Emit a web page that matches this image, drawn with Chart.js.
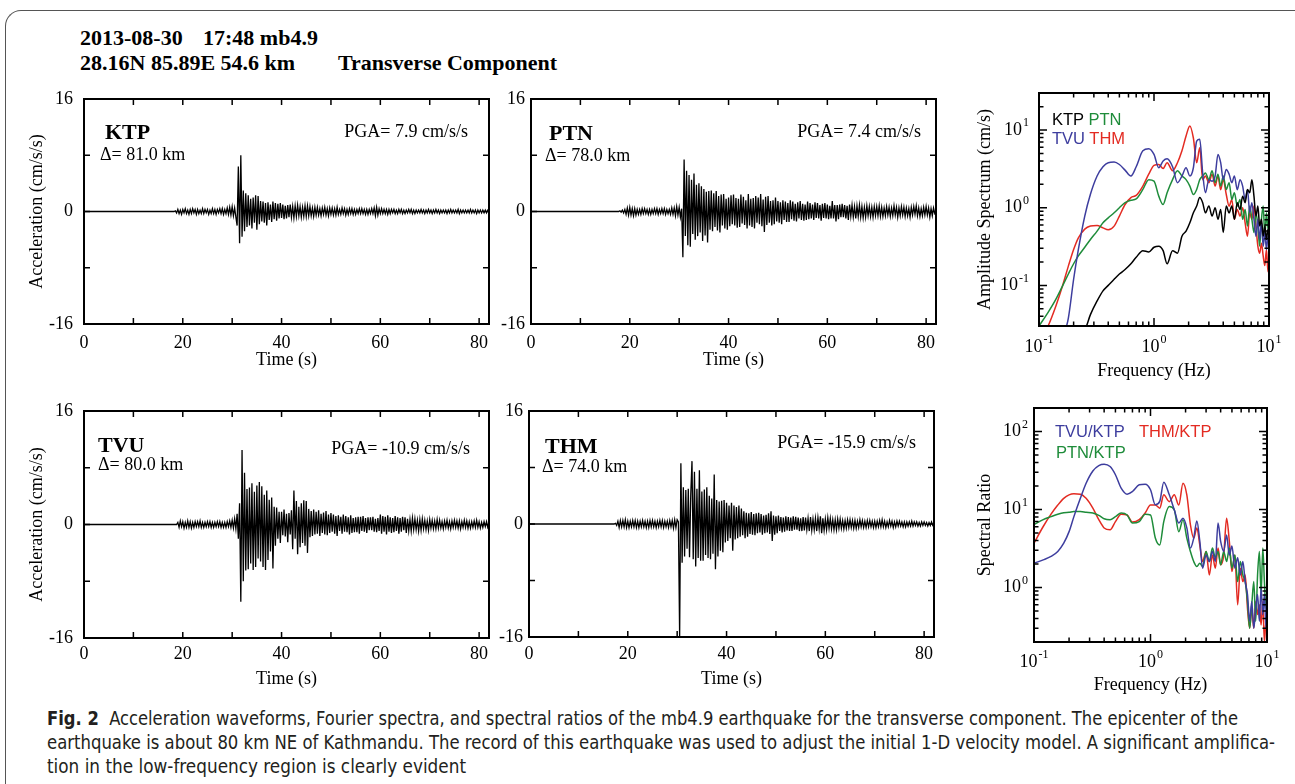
<!DOCTYPE html>
<html>
<head>
<meta charset="utf-8">
<title>Fig. 2 - transverse component</title>
<script src="https://cdn.jsdelivr.net/npm/chart.js@4.4.0/dist/chart.umd.min.js"></script>
<style>
  body { margin: 0; background: #fff; }
  #fig { position: relative; width: 1295px; height: 784px; overflow: hidden;
         font-family: "Liberation Serif", "Times New Roman", serif; color: #000; }
  #fig canvas { position: absolute; }
  .frame { position: absolute; left: 5px; top: 10px; width: 1330px; height: 820px;
           border-top: 1.5px solid #555; border-left: 1.5px solid #555; border-top-left-radius: 16px; }
  .t { position: absolute; white-space: nowrap; line-height: 1; font-size: 18px; transform: translateY(-50%); }
  .r { transform: translate(-100%, -50%); }
  .stn { font-weight: bold; font-size: 22px; }
  .hd { font-weight: bold; font-size: 22px; }
  .lg { font-family: "Liberation Sans", Arial, sans-serif; font-size: 16.5px; }
  .cap { position: absolute; left: 47px; white-space: nowrap; color: #231f20;
         font-family: "Liberation Sans Narrow", "DejaVu Sans Condensed", "Open Sans", sans-serif;
         font-stretch: condensed; font-size: 20px; line-height: 24px; transform-origin: 0 50%; }
</style>
</head>
<body>
<div id="fig">
  <div class="frame"></div>

  <canvas id="wKTP" width="480" height="290" style="left:20px;top:90px"></canvas>
  <canvas id="wPTN" width="480" height="290" style="left:467px;top:90px"></canvas>
  <canvas id="wTVU" width="480" height="292" style="left:20px;top:402px"></canvas>
  <canvas id="wTHM" width="480" height="292" style="left:465px;top:402px"></canvas>
  <canvas id="spec" width="335" height="310" style="left:960px;top:80px"></canvas>
  <canvas id="ratio" width="335" height="310" style="left:960px;top:395px"></canvas>

  <div class="t hd" style="left:80px;top:38px">2013-08-30</div>
  <div class="t hd" style="left:203px;top:38px">17:48 mb4.9</div>
  <div class="t hd" style="left:80px;top:63px">28.16N 85.89E 54.6 km</div>
  <div class="t hd" style="left:338px;top:63px">Transverse Component</div>

  <div class="t stn" style="left:105px;top:132px">KTP</div>
  <div class="t" style="left:100px;top:154px">&Delta;= 81.0 km</div>
  <div class="t r" style="left:468px;top:131px">PGA= 7.9 cm/s/s</div>

  <div class="t stn" style="left:549px;top:133px">PTN</div>
  <div class="t" style="left:545px;top:155px">&Delta;= 78.0 km</div>
  <div class="t r" style="left:921px;top:131px">PGA= 7.4 cm/s/s</div>

  <div class="t stn" style="left:98px;top:445px">TVU</div>
  <div class="t" style="left:98px;top:464px">&Delta;= 80.0 km</div>
  <div class="t r" style="left:470px;top:448px">PGA= -10.9 cm/s/s</div>

  <div class="t stn" style="left:545px;top:446px">THM</div>
  <div class="t" style="left:542px;top:466px">&Delta;= 74.0 km</div>
  <div class="t r" style="left:916px;top:442px">PGA= -15.9 cm/s/s</div>

  <div class="t lg" style="left:1052px;top:119px">KTP <span style="color:#1e8c3a">PTN</span></div>
  <div class="t lg" style="left:1052px;top:138px"><span style="color:#3d3d9e">TVU</span> <span style="color:#e32b22">THM</span></div>
  <div class="t lg" style="left:1055px;top:431px;color:#3d3d9e">TVU/KTP</div>
  <div class="t lg" style="left:1139px;top:431px;color:#e32b22">THM/KTP</div>
  <div class="t lg" style="left:1056px;top:452px;color:#1e8c3a">PTN/KTP</div>

  <div class="cap" data-w="1191" style="top:706px"><b>Fig. 2</b>&nbsp; Acceleration waveforms, Fourier spectra, and spectral ratios of the mb4.9 earthquake for the transverse component. The epicenter of the</div>
  <div class="cap" data-w="1228" style="top:730px">earthquake is about 80 km NE of Kathmandu. The record of this earthquake was used to adjust the initial 1-D velocity model. A significant amplifica-</div>
  <div class="cap" data-w="419" style="top:754px">tion in the low-frequency region is clearly evident</div>
</div>

<script>
// Acceleration records (cm/s/s), 4 samples per second from timeStart on; zero before that
const timeStart = 17;
const timeStep = 0.25;

const accKTP = [
  0, 0, 0, 0,  0, 0, 0.1, -0.2,  0.3, -0.3, 0.2, -0.4,  0.3, -0.2, 0.4, -0.3,  0.2, -0.4, 0.3, -0.3,
  0.4, -0.2, 0.3, -0.4,  0.3, -0.3, 0.2, -0.3,  0.4, -0.3, 0.3, -0.2,  0.3, -0.4, 0.2, -0.3,  0.4, -0.3, 0.3, -0.4,
  0.3, -0.2, 0.4, -0.3,  0.4, -0.4, 0.3, -0.3,  0.5, -0.4, 0.6, -0.5,  0.7, -0.6, 0.5, -0.8,  -2.0, 6.4, -4.5, 8.0,
  -3.6, 3.0, -2.8, 2.6,  -2.2, 2.3, -2.0, 1.8,  -2.4, 2.0, -1.6, 2.3,  -2.6, 2.2, -1.8, 1.5,  -1.4, 1.4, -1.6, 1.2,
  -2.0, 1.3, -1.2, 1.0,  -1.5, 1.4, -1.1, 1.2,  -1.3, 1.1, -1.0, 1.2,  -0.9, 1.0, -1.1, 0.8,  -1.0, 0.9, -0.8, 1.0,
  -0.8, 0.7, -0.9, 0.8,  -0.7, 0.9, -0.6, 0.7,  -0.8, 0.6, -0.7, 0.8,  -0.7, 0.8, -0.6, 0.7,  -0.6, 0.5, -0.7, 0.6,
  -0.5, 0.6, -0.5, 0.4,  -0.6, 0.5, -0.4, 0.6,  -0.5, 0.4, -0.6, 0.5,  -0.4, 0.5, -0.5, 0.4,  -0.5, 0.6, -0.4, 0.3,
  -0.4, 0.5, -0.3, 0.4,  -0.5, 0.3, -0.4, 0.4,  -0.3, 0.4, -0.4, 0.3,  -0.4, 0.3, -0.3, 0.4,  -0.3, 0.4, -0.3, 0.3,
  -0.4, 0.3, -0.4, 0.3,  -0.3, 0.4, -0.3, 0.5,  -0.6, 0.6, -0.5, 0.4,  -0.3, 0.4, -0.3, 0.3,  -0.3, 0.3, -0.4, 0.3,
  -0.3, 0.3, -0.2, 0.3,  -0.3, 0.2, -0.3, 0.3,  -0.2, 0.3, -0.3, 0.2,  -0.3, 0.2, -0.2, 0.3,  -0.2, 0.3, -0.3, 0.2,
  -0.3, 0.2, -0.2, 0.2,  -0.2, 0.3, -0.2, 0.2,  -0.3, 0.2, -0.2, 0.3,  -0.2, 0.2, -0.3, 0.2,  -0.2, 0.3, -0.2, 0.2,
  -0.3, 0.2, -0.2, 0.2,  -0.2, 0.2, -0.3, 0.2,  -0.2, 0.3, -0.2, 0.2,  -0.2, 0.2, -0.2, 0.3,  -0.3, 0.2, -0.2, 0.2,
  -0.2, 0.2, -0.2, 0.2,  -0.2, 0.3, -0.2, 0.2,  -0.2, 0.2, -0.3, 0.2,  -0.2, 0.2, -0.2, 0.2,  -0.2, 0.2, -0.2, 0.2,
  0
];

const accPTN = [
  0, 0, 0, 0,  0.1, -0.1, 0.2, -0.2,  0.3, -0.4, 0.5, -0.5,  0.6, -0.5, 0.4, -0.6,  0.4, -0.5, 0.3, -0.4,
  0.3, -0.4, 0.4, -0.3,  0.4, -0.3, 0.3, -0.4,  0.3, -0.4, 0.3, -0.3,  0.4, -0.3, 0.4, -0.4,  0.3, -0.3, 0.4, -0.3,
  0.4, -0.4, 0.3, -0.3,  0.3, -0.4, 0.5, -0.4,  0.5, -0.6, 0.7, -0.5,  0.6, -0.8, 0.4, -6.5,  7.4, -3.5, 5.8, -4.8,
  5.2, -5.0, 4.5, -3.2,  5.4, -4.0, 3.8, -3.5,  4.0, -3.0, 3.6, -4.2,  3.2, -3.4, 2.8, -4.4,  2.9, -2.6, 3.0, -2.8,
  2.6, -2.2, 2.9, -2.7,  2.2, -3.0, 2.4, -2.0,  2.5, -2.4, 1.8, -2.6,  2.0, -2.1, 2.3, -1.8,  2.4, -2.0, 1.9, -2.3,
  1.8, -2.2, 2.4, -1.7,  2.1, -1.9, 1.6, -2.4,  2.5, -2.0, 1.8, -2.2,  1.9, -2.4, 2.2, -1.6,  2.0, -1.8, 2.5, -2.1,
  1.7, -2.9, 2.1, -1.9,  2.2, -1.6, 1.5, -2.0,  1.6, -1.8, 2.0, -1.4,  1.5, -1.6, 1.3, -1.8,  1.6, -1.2, 1.4, -1.5,
  1.2, -1.5, 1.6, -1.1,  1.4, -1.3, 1.1, -1.4,  1.3, -1.0, 1.5, -1.2,  1.1, -1.3, 1.0, -1.2,  1.4, -1.1, 1.2, -1.0,
  1.0, -1.2, 1.3, -0.9,  1.2, -1.0, 0.9, -1.3,  1.1, -0.9, 1.2, -1.0,  1.0, -1.1, 0.8, -1.0,  1.5, -1.0, 0.9, -1.4,
  0.9, -1.1, 1.0, -0.8,  1.1, -0.8, 0.9, -1.0,  0.8, -1.2, 1.0, -0.7,  0.9, -0.8, 0.7, -1.0,  0.8, -0.7, 0.9, -0.8,
  0.7, -0.9, 0.6, -0.8,  0.8, -0.6, 0.7, -0.7,  0.6, -0.8, 0.7, -0.6,  0.7, -0.6, 0.8, -0.7,  0.6, -0.7, 0.5, -0.6,
  0.7, -0.5, 0.6, -0.7,  0.5, -0.6, 0.8, -0.5,  0.6, -0.8, 0.5, -0.6,  0.7, -0.5, 0.6, -0.7,  0.5, -0.6, 0.4, -0.8,
  0.6, -0.5, 0.7, -0.4,  0.8, -0.6, 0.5, -0.7,  0.4, -0.6, 0.6, -0.5,  0.7, -0.5, 0.5, -0.8,  0.4, -0.6, 0.5, -0.3,
  0
];

const accTVU = [
  0, 0, 0, 0,  0, 0, 0, 0,  0.3, -0.4, 0.5, -0.3,  0.4, -0.5, 0.3, -0.4,  0.5, -0.4, 0.4, -0.5,
  0.3, -0.4, 0.4, -0.3,  0.4, -0.3, 0.5, -0.4,  0.3, -0.4, 0.3, -0.3,  0.4, -0.3, 0.4, -0.4,  0.3, -0.4, 0.3, -0.3,
  0.4, -0.3, 0.4, -0.4,  0.3, -0.4, 0.3, -0.4,  0.4, -0.3, 0.5, -0.4,  0.6, -0.5, 0.8, -0.6,  1.5, -2.0, 3.0, -10.9,
  10.5, -8.0, 7.3, -6.5,  5.0, -6.3, 5.2, -5.5,  5.8, -6.4, 4.6, -6.0,  5.5, -4.8, 6.0, -5.2,  5.4, -6.0, 4.2, -6.4,
  4.8, -5.0, 3.5, -3.8,  3.8, -6.2, 2.5, -3.0,  2.4, -2.0, 1.8, -2.6,  1.8, -1.5, 2.1, -1.7,  1.5, -2.5, 1.6, -1.4,
  2.0, -3.5, 4.8, -2.0,  3.3, -4.2, 2.5, -3.2,  3.0, -2.6, 3.4, -3.0,  3.3, -4.0, 2.2, -1.8,  1.9, -1.6, 2.1, -1.4,
  1.8, -1.3, 2.0, -1.6,  1.5, -1.2, 1.7, -1.4,  1.9, -1.5, 1.4, -1.2,  1.6, -1.0, 1.4, -1.3,  1.2, -1.6, 1.3, -0.9,
  1.1, -1.3, 1.4, -1.0,  1.2, -1.1, 1.0, -1.4,  1.3, -1.2, 0.9, -1.1,  1.0, -1.1, 1.1, -1.3,  1.1, -0.9, 1.2, -1.0,
  0.9, -1.2, 1.0, -0.8,  1.0, -0.8, 1.1, -1.0,  0.8, -1.1, 0.9, -0.9,  1.4, -1.3, 1.2, -1.0,  1.1, -1.4, 1.3, -1.0,
  1.0, -1.2, 0.9, -1.1,  1.2, -0.9, 1.0, -1.3,  0.9, -1.0, 1.1, -0.8,  1.0, -1.2, 0.8, -0.9,  0.7, -0.9, 0.9, -0.7,
  0.8, -0.7, 0.6, -0.9,  0.7, -0.8, 0.8, -0.6,  0.6, -0.7, 0.5, -0.8,  0.7, -0.5, 0.6, -0.6,  0.5, -0.6, 0.7, -0.5,
  0.6, -0.5, 0.4, -0.6,  0.5, -0.4, 0.6, -0.5,  0.4, -0.6, 0.5, -0.4,  0.6, -0.4, 0.5, -0.5,  0.5, -0.6, 0.4, -0.4,
  0.6, -0.4, 0.5, -0.5,  0.4, -0.5, 0.4, -0.4,  0.5, -0.4, 0.6, -0.4,  0.4, -0.5, 0.3, -0.4,  0.4, -0.3, 0.4, -0.4,
  0
];

const accTHM = [
  0, 0, 0.1, -0.2,  0.4, -0.5, 0.5, -0.4,  0.5, -0.4, 0.6, -0.5,  0.4, -0.5, 0.4, -0.4,  0.5, -0.4, 0.5, -0.5,
  0.4, -0.5, 0.4, -0.4,  0.5, -0.4, 0.4, -0.5,  0.4, -0.5, 0.5, -0.4,  0.5, -0.4, 0.4, -0.5,  0.4, -0.4, 0.5, -0.4,
  0.5, -0.5, 0.4, -0.4,  0.4, -0.5, 0.5, -0.4,  0.5, -0.6, 0.6, -0.5,  0.6, 0.3, -15.9, 8.6,  -5.5, 5.2, -4.6, 4.8,
  -3.5, 5.0, -4.7, 4.2,  8.9, -5.0, 7.4, -6.0,  5.0, -4.8, 7.6, -5.2,  4.6, -5.2, 4.9, -4.4,  5.2, -4.8, 4.0, -5.0,
  3.6, -4.2, 7.0, -6.4,  3.4, -4.6, 3.2, -3.8,  3.3, -4.0, 3.4, -2.6,  3.0, -2.4, 2.6, -2.0,  3.0, -3.8, 2.6, -2.2,
  2.4, -2.0, 2.6, -1.8,  2.2, -1.6, 1.8, -2.0,  1.6, -1.8, 1.5, -1.4,  1.7, -1.5, 1.4, -1.6,  1.5, -1.3, 1.6, -1.2,
  1.4, -1.5, 1.2, -1.3,  1.3, -1.2, 1.5, -1.4,  1.8, -2.4, 1.2, -1.5,  1.1, -1.3, 1.2, -1.0,  1.0, -1.2, 0.9, -1.1,
  1.1, -0.9, 1.0, -1.0,  0.9, -1.0, 1.1, -0.8,  1.0, -0.8, 0.9, -1.0,  0.8, -1.0, 1.0, -0.9,  0.9, -0.8, 0.8, -1.0,
  1.0, -0.9, 0.7, -0.8,  0.8, -1.0, 0.9, -0.7,  1.1, -1.3, 0.8, -0.9,  0.7, -0.8, 0.9, -0.6,  0.8, -0.7, 0.6, -0.8,
  0.6, -0.8, 0.7, -0.6,  0.7, -0.6, 0.5, -0.7,  0.5, -0.6, 0.6, -0.5,  0.6, -0.5, 0.5, -0.6,  0.5, -0.6, 0.4, -0.5,
  0.6, -0.4, 0.5, -0.5,  0.4, -0.5, 0.5, -0.4,  0.5, -0.4, 0.4, -0.5,  0.4, -0.5, 0.4, -0.4,  0.5, -0.4, 0.6, -0.4,
  0.4, -0.5, 0.3, -0.4,  0.5, -0.3, 0.4, -0.5,  0.3, -0.4, 0.4, -0.3,  0.4, -0.3, 0.3, -0.4,  0.3, -0.4, 0.3, -0.3,
  0.3, -0.3, 0.4, -0.3,  0.3, -0.2, 0.3, -0.3,  0.2, -0.3, 0.3, -0.2,  0.3, -0.2, 0.2, -0.3,  0.2, -0.2, 0.3, -0.2,
  0
];

// Fourier amplitude spectra (cm/s) and spectral ratios, on a common frequency list (Hz)
const freqHz = [
  0.10, 0.12, 0.14, 0.16, 0.18, 0.20, 0.22, 0.25, 0.28, 0.32,
  0.36, 0.40, 0.45, 0.50, 0.56, 0.63, 0.70, 0.80, 0.90, 1.00,
  1.10, 1.20, 1.30, 1.45, 1.60, 1.75, 1.90, 2.05, 2.20, 2.35,
  2.50, 2.65, 2.80, 3.00, 3.20, 3.40, 3.60, 3.80, 4.00, 4.25,
  4.50, 4.75, 5.00, 5.30, 5.60, 5.90, 6.20, 6.50, 6.80, 7.10,
  7.40, 7.70, 8.00, 8.30, 8.60, 8.90, 9.20, 9.50, 9.80, 10.0
];

const specKTP = [
  0.005, 0.008, 0.011, 0.014, 0.018, 0.022, 0.025, 0.027, 0.042, 0.063,
  0.085, 0.10, 0.12, 0.14, 0.16, 0.19, 0.23, 0.28, 0.27, 0.31,
  0.32, 0.28, 0.19, 0.28, 0.26, 0.43, 0.50, 0.64, 0.86, 1.05,
  1.35, 1.16, 0.86, 1.05, 0.78, 1.0, 0.71, 0.95, 0.48, 1.05,
  0.86, 1.05, 0.71, 1.16, 0.95, 1.41, 1.16, 1.72, 1.56, 2.3,
  1.41, 0.78, 1.05, 0.58, 0.71, 0.43, 0.58, 0.39, 0.53, 0.45
];
const specTVU = [
  0.004, 0.006, 0.010, 0.020, 0.038, 0.12, 0.29, 0.78, 1.49, 2.56,
  3.37, 3.8, 3.87, 3.6, 3.05, 2.56, 3.37, 5.4, 5.75, 4.86,
  3.27, 4.0, 4.27, 3.37, 2.1, 2.56, 3.27, 2.56, 3.27, 7.2,
  7.6, 2.8, 1.56, 2.3, 2.2, 2.56, 4.86, 3.8, 2.3, 3.1,
  2.7, 2.1, 2.56, 1.7, 2.3, 1.9, 1.28, 1.7, 0.86, 1.16,
  0.71, 0.43, 0.71, 0.39, 0.64, 0.32, 0.48, 0.29, 0.43, 0.40
];
const specPTN = [
  0.030, 0.045, 0.066, 0.098, 0.14, 0.19, 0.24, 0.31, 0.39, 0.50,
  0.64, 0.74, 0.86, 1.0, 1.16, 1.25, 1.3, 1.72, 2.3, 2.2,
  1.41, 1.1, 1.56, 2.3, 3.0, 2.56, 2.3, 1.9, 1.48, 1.72,
  2.3, 2.56, 2.8, 2.3, 3.0, 2.1, 2.7, 1.9, 2.56, 1.72,
  2.1, 1.28, 1.56, 1.05, 1.28, 0.71, 0.95, 0.58, 1.05, 0.71,
  0.48, 0.86, 0.58, 0.32, 0.71, 1.05, 0.43, 0.86, 0.53, 0.60
];
const specTHM = [
  0.018, 0.030, 0.054, 0.098, 0.177, 0.29, 0.41, 0.53, 0.58, 0.59,
  0.55, 0.52, 0.58, 0.78, 1.1, 1.35, 1.44, 1.9, 2.7, 3.5,
  3.6, 3.2, 3.8, 3.0, 3.8, 5.4, 8.4, 11.3, 7.9, 3.8,
  5.9, 2.3, 2.56, 2.1, 2.7, 1.9, 2.56, 1.7, 2.3, 1.48,
  1.05, 1.28, 0.71, 0.95, 0.78, 1.0, 0.64, 0.43, 0.86, 0.71,
  1.05, 0.58, 0.32, 0.26, 0.35, 0.24, 0.18, 0.29, 0.15, 0.20
];

const ratioTVU = [
  2.05, 2.26, 2.5, 2.9, 3.7, 5.2, 8.1, 13.9, 21.7, 31.2,
  36.6, 38.1, 35.5, 27.9, 18.8, 15.7, 17.0, 20.7, 21.1, 17.9,
  11.5, 12.7, 22.4, 15.4, 9.9, 6.7, 7.7, 5.8, 3.2, 4.3,
  7.1, 3.9, 1.77, 2.6, 2.15, 2.9, 2.15, 6.7, 3.9, 2.9,
  4.7, 2.6, 3.4, 1.77, 2.4, 1.45, 2.15, 1.19, 0.81, 0.37,
  0.66, 0.30, 0.54, 0.81, 0.37, 0.98, 0.45, 0.81, 0.30, 0.50
];
const ratioPTN = [
  6.4, 7.4, 8.1, 8.7, 9.1, 9.2, 9.4, 9.4, 9.2, 9.0,
  8.4, 7.6, 7.4, 8.1, 9.0, 8.5, 6.7, 7.0, 8.7, 8.5,
  4.3, 3.5, 7.0, 10.9, 9.9, 5.2, 7.4, 4.3, 2.9, 2.15,
  1.86, 2.05, 1.86, 2.9, 2.15, 3.2, 2.4, 2.9, 1.95, 2.9,
  2.15, 3.2, 1.77, 2.6, 1.19, 2.15, 1.45, 1.19, 0.66, 0.30,
  0.60, 1.19, 0.37, 1.45, 2.9, 0.81, 3.2, 1.19, 0.54, 0.60
];
const ratioTHM = [
  3.7, 6.05, 8.7, 11.4, 13.9, 15.4, 15.9, 15.7, 13.9, 10.4,
  7.4, 5.8, 5.5, 7.0, 8.7, 8.5, 6.9, 7.4, 9.0, 11.4,
  11.4, 10.4, 15.4, 12.6, 15.4, 11.4, 21.7, 15.4, 6.4, 4.3,
  5.8, 3.5, 2.15, 2.9, 1.45, 2.6, 1.77, 3.2, 1.95, 2.6,
  7.7, 3.9, 1.6, 2.6, 0.60, 1.77, 1.19, 1.45, 0.54, 0.30,
  0.54, 0.30, 0.66, 0.45, 0.60, 0.33, 0.66, 0.20, 0.37, 0.30
];

// Tick marks inside the frame
const timeTicks = [10, 20, 30, 40, 50, 60, 70, 80];
const accelTicks = [-8, 0, 8];

const colors = { KTP: '#000000', PTN: '#1e8c3a', TVU: '#3d3d9e', THM: '#e32b22' };
const serif = '"Liberation Serif", "Times New Roman", serif';

Chart.defaults.font.family = serif;
Chart.defaults.color = '#000';

// log axes: minor ticks at 2..9 of every decade, longer ones at the decades
function logTicks(min, max) {
  const out = [];
  for (let e = Math.floor(Math.log10(min)); e <= Math.ceil(Math.log10(max)); e++) {
    for (let m = 1; m <= 9; m++) {
      const v = m * Math.pow(10, e);
      if (v >= min * 0.999 && v <= max * 1.001) out.push([v, m === 1 ? 8 : 4.5]);
    }
  }
  return out;
}

// keep the plot box where the layout padding puts it (no room reserved for label overhang)
function noOverhang(s) {
  s.paddingTop = 0; s.paddingBottom = 0; s.paddingLeft = 0; s.paddingRight = 0;
}

// frame box and inward ticks on all four sides
const frameTicks = {
  id: 'frameTicks',
  afterDatasetsDraw(chart, args, o) {
    const { ctx, chartArea: a, scales: { x, y } } = chart;
    ctx.save();
    ctx.strokeStyle = '#000';
    ctx.lineWidth = 1.5;
    ctx.beginPath();
    o.x.forEach(([v, len]) => {
      const px = x.getPixelForValue(v);
      ctx.moveTo(px, a.top); ctx.lineTo(px, a.top + len);
      ctx.moveTo(px, a.bottom); ctx.lineTo(px, a.bottom - len);
    });
    o.y.forEach(([v, len]) => {
      const py = y.getPixelForValue(v);
      ctx.moveTo(a.left, py); ctx.lineTo(a.left + len, py);
      ctx.moveTo(a.right, py); ctx.lineTo(a.right - len, py);
    });
    ctx.stroke();
    ctx.lineWidth = 2;
    ctx.strokeRect(a.left, a.top, a.right - a.left, a.bottom - a.top);
    ctx.restore();
  }
};

// "10" with a raised exponent for the log axes
function drawPow(ctx, x, y, e, align) {
  const base = '10', exp = String(e);
  ctx.font = '18px ' + serif;
  const wb = ctx.measureText(base).width;
  ctx.font = '12px ' + serif;
  const we = ctx.measureText(exp).width;
  const total = wb + 1 + we;
  const left = align === 'right' ? x - total : x - total / 2;
  ctx.textAlign = 'left';
  ctx.textBaseline = 'middle';
  ctx.font = '18px ' + serif;
  ctx.fillText(base, left, y);
  ctx.font = '12px ' + serif;
  ctx.fillText(exp, left + wb + 1, y - 7);
}

const logLabels = {
  id: 'logLabels',
  afterDraw(chart, args, o) {
    const { ctx, chartArea: a, scales: { x, y } } = chart;
    ctx.save();
    ctx.fillStyle = '#000';
    o.xExp.forEach(e => drawPow(ctx, x.getPixelForValue(Math.pow(10, e)), a.bottom + o.xGap, e, 'center'));
    o.yExp.forEach(e => drawPow(ctx, a.left - o.yGap, y.getPixelForValue(Math.pow(10, e)), e, 'right'));
    ctx.restore();
  }
};

function wavePanel(id, samples, p) {
  const points = [{ x: 0, y: 0 }].concat(samples.map((v, i) => ({ x: timeStart + i * timeStep, y: v })));
  return new Chart(document.getElementById(id), {
    type: 'line',
    data: {
      datasets: [{
        data: points,
        borderColor: '#000',
        borderWidth: 1.3,
        pointRadius: 0,
        tension: 0
      }]
    },
    options: {
      responsive: false,
      animation: false,
      parsing: false,
      events: [],
      layout: { padding: { top: 9, right: 11, left: 0, bottom: 0 } },
      plugins: {
        legend: { display: false },
        tooltip: { enabled: false },
        frameTicks: {
          x: timeTicks.map(v => [v, 6]),
          y: accelTicks.map(v => [v, 6])
        }
      },
      scales: {
        x: {
          type: 'linear', min: 0, max: 82,
          ticks: { stepSize: 20, includeBounds: false, maxRotation: 0, padding: p.xPad, font: { size: 18 } },
          grid: { display: false, drawTicks: false },
          border: { display: false },
          title: { display: true, text: 'Time (s)', font: { size: 18 }, padding: { top: 0, bottom: p.titlePad } },
          afterFit: s => { s.height = p.xHeight; noOverhang(s); }
        },
        y: {
          type: 'linear', min: -16, max: 16,
          ticks: { stepSize: 16, padding: p.yPad, font: { size: 18 } },
          grid: { display: false, drawTicks: false },
          border: { display: false },
          title: { display: p.yTitle, text: 'Acceleration (cm/s/s)', font: { size: 18 }, padding: { top: 6, bottom: 0 } },
          afterFit: s => { s.width = 64; noOverhang(s); }
        }
      }
    },
    plugins: [frameTicks]
  });
}

function specPanel(id, series, p) {
  return new Chart(document.getElementById(id), {
    type: 'line',
    data: {
      datasets: series.map(([vals, color]) => ({
        data: freqHz.map((f, i) => ({ x: f, y: vals[i] })),
        borderColor: color,
        borderWidth: 1.5,
        pointRadius: 0,
        cubicInterpolationMode: 'monotone'
      }))
    },
    options: {
      responsive: false,
      animation: false,
      parsing: false,
      events: [],
      layout: { padding: { top: 13, right: p.right, left: 0, bottom: 0 } },
      plugins: {
        legend: { display: false },
        tooltip: { enabled: false },
        frameTicks: { x: logTicks(0.1, 10), y: logTicks(p.ymin, p.ymax) },
        logLabels: { xExp: [-1, 0, 1], yExp: p.yExp, xGap: p.xGap, yGap: p.yGap }
      },
      scales: {
        x: {
          type: 'logarithmic', min: 0.1, max: 10,
          ticks: { display: false },
          grid: { display: false, drawTicks: false },
          border: { display: false },
          title: { display: true, text: 'Frequency (Hz)', font: { size: 18 }, padding: { top: 0, bottom: p.titlePad } },
          afterFit: s => { s.height = p.xHeight; noOverhang(s); }
        },
        y: {
          type: 'logarithmic', min: p.ymin, max: p.ymax,
          ticks: { display: false },
          grid: { display: false, drawTicks: false },
          border: { display: false },
          title: { display: true, text: p.yTitle, font: { size: 18 }, padding: { top: 14, bottom: 0 } },
          afterFit: s => { s.width = p.yWidth; noOverhang(s); }
        }
      }
    },
    plugins: [frameTicks, logLabels]
  });
}

wavePanel('wKTP', accKTP, { xPad: 8, titlePad: 9, xHeight: 56, yPad: 11, yTitle: true });
wavePanel('wPTN', accPTN, { xPad: 8, titlePad: 9, xHeight: 56, yPad: 6, yTitle: false });
wavePanel('wTVU', accTVU, { xPad: 5, titlePad: 4, xHeight: 56, yPad: 11, yTitle: true });
wavePanel('wTHM', accTHM, { xPad: 6, titlePad: 4, xHeight: 57, yPad: 6, yTitle: false });

specPanel('spec', [[specKTP, colors.KTP], [specTVU, colors.TVU], [specPTN, colors.PTN], [specTHM, colors.THM]], {
  ymin: 0.03, ymax: 30, yExp: [-1, 0, 1], right: 26, yWidth: 79, xHeight: 64,
  xGap: 21, yGap: 10, titlePad: 8, yTitle: 'Amplitude Spectrum (cm/s)'
});
specPanel('ratio', [[ratioTVU, colors.TVU], [ratioPTN, colors.PTN], [ratioTHM, colors.THM]], {
  ymin: 0.2, ymax: 200, yExp: [0, 1, 2], right: 28, yWidth: 74, xHeight: 63,
  xGap: 20, yGap: 6, titlePad: 9, yTitle: 'Spectral Ratio'
});

// squeeze each caption line to the width it has in the figure
document.querySelectorAll('.cap').forEach(el => {
  const w = el.getBoundingClientRect().width;
  el.style.transform = 'scaleX(' + (Number(el.dataset.w) / w) + ')';
});
</script>
</body>
</html>
